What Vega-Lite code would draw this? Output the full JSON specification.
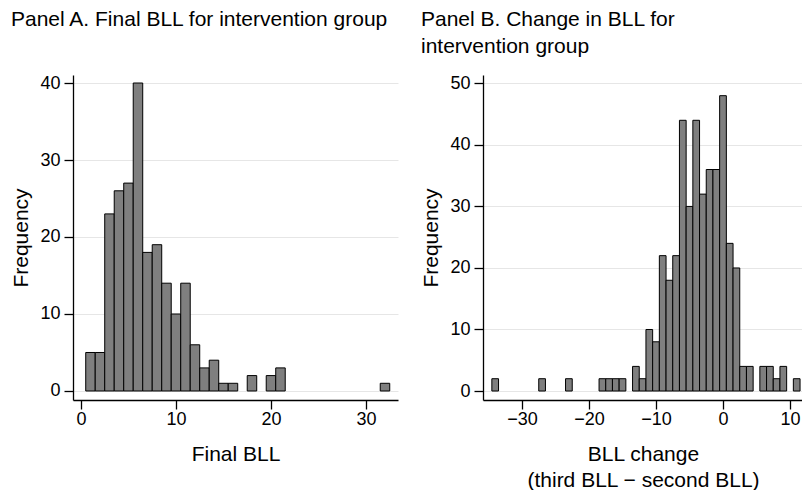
{
  "$schema": "https://vega.github.io/schema/vega-lite/v6.json",
  "padding": {"left": 10, "top": 9, "right": 0, "bottom": 0},
  "spacing": 22,
  "config": {
    "font": "Liberation Sans",
    "view": {"stroke": null},
    "axis": {
      "domainColor": "#000", "domainWidth": 1.3,
      "tickColor": "#000", "tickWidth": 1.3, "tickSize": 9,
      "labelFontSize": 18, "labelColor": "#000", "labelPadding": 4,
      "titleFontSize": 21, "titleFontWeight": "normal", "titleColor": "#000",
      "gridColor": "#e6e6e6", "gridWidth": 1
    },
    "axisX": {"grid": false, "labelPadding": 1, "titlePadding": 15, "titleLineHeight": 26},
    "axisY": {"grid": true, "titlePadding": 8},
    "title": {"anchor": "start", "frame": "bounds", "fontSize": 21, "fontWeight": "normal", "color": "#000", "lineHeight": 27}
  },
  "hconcat": [
    {
      "title": {"text": "Panel A. Final BLL for intervention group", "offset": 44},
      "width": 325,
      "height": 325,
      "data": {"values": [
        {"bin_start": 0.5, "bin_end": 1.5, "count": 5},
        {"bin_start": 1.5, "bin_end": 2.5, "count": 5},
        {"bin_start": 2.5, "bin_end": 3.5, "count": 23},
        {"bin_start": 3.5, "bin_end": 4.5, "count": 26},
        {"bin_start": 4.5, "bin_end": 5.5, "count": 27},
        {"bin_start": 5.5, "bin_end": 6.5, "count": 40},
        {"bin_start": 6.5, "bin_end": 7.5, "count": 18},
        {"bin_start": 7.5, "bin_end": 8.5, "count": 19},
        {"bin_start": 8.5, "bin_end": 9.5, "count": 14},
        {"bin_start": 9.5, "bin_end": 10.5, "count": 10},
        {"bin_start": 10.5, "bin_end": 11.5, "count": 14},
        {"bin_start": 11.5, "bin_end": 12.5, "count": 6},
        {"bin_start": 12.5, "bin_end": 13.5, "count": 3},
        {"bin_start": 13.5, "bin_end": 14.5, "count": 4},
        {"bin_start": 14.5, "bin_end": 15.5, "count": 1},
        {"bin_start": 15.5, "bin_end": 16.5, "count": 1},
        {"bin_start": 17.5, "bin_end": 18.5, "count": 2},
        {"bin_start": 19.5, "bin_end": 20.5, "count": 2},
        {"bin_start": 20.5, "bin_end": 21.5, "count": 3},
        {"bin_start": 31.5, "bin_end": 32.5, "count": 1}
      ]},
      "mark": {"type": "bar", "fill": "#7f7f7f", "stroke": "#000", "strokeWidth": 1},
      "encoding": {
        "x": {"field": "bin_start", "type": "quantitative",
              "scale": {"domain": [-0.84, 33.37], "nice": false, "zero": false},
              "axis": {"values": [0, 10, 20, 30], "title": "Final BLL"}},
        "x2": {"field": "bin_end"},
        "y": {"field": "count", "type": "quantitative",
              "scale": {"domain": [-1.17, 41.04], "nice": false, "zero": false},
              "axis": {"values": [0, 10, 20, 30, 40], "title": "Frequency"}},
        "y2": {"datum": 0}
      }
    },
    {
      "title": {"text": ["Panel B. Change in BLL for", "intervention group"], "offset": 17},
      "width": 320,
      "height": 325,
      "data": {"values": [
        {"bin_start": -34.5, "bin_end": -33.5, "count": 2},
        {"bin_start": -27.5, "bin_end": -26.5, "count": 2},
        {"bin_start": -23.5, "bin_end": -22.5, "count": 2},
        {"bin_start": -18.5, "bin_end": -17.5, "count": 2},
        {"bin_start": -17.5, "bin_end": -16.5, "count": 2},
        {"bin_start": -16.5, "bin_end": -15.5, "count": 2},
        {"bin_start": -15.5, "bin_end": -14.5, "count": 2},
        {"bin_start": -13.5, "bin_end": -12.5, "count": 4},
        {"bin_start": -12.5, "bin_end": -11.5, "count": 2},
        {"bin_start": -11.5, "bin_end": -10.5, "count": 10},
        {"bin_start": -10.5, "bin_end": -9.5, "count": 8},
        {"bin_start": -9.5, "bin_end": -8.5, "count": 22},
        {"bin_start": -8.5, "bin_end": -7.5, "count": 18},
        {"bin_start": -7.5, "bin_end": -6.5, "count": 22},
        {"bin_start": -6.5, "bin_end": -5.5, "count": 44},
        {"bin_start": -5.5, "bin_end": -4.5, "count": 30},
        {"bin_start": -4.5, "bin_end": -3.5, "count": 44},
        {"bin_start": -3.5, "bin_end": -2.5, "count": 32},
        {"bin_start": -2.5, "bin_end": -1.5, "count": 36},
        {"bin_start": -1.5, "bin_end": -0.5, "count": 36},
        {"bin_start": -0.5, "bin_end": 0.5, "count": 48},
        {"bin_start": 0.5, "bin_end": 1.5, "count": 24},
        {"bin_start": 1.5, "bin_end": 2.5, "count": 20},
        {"bin_start": 2.5, "bin_end": 3.5, "count": 4},
        {"bin_start": 3.5, "bin_end": 4.5, "count": 4},
        {"bin_start": 5.5, "bin_end": 6.5, "count": 4},
        {"bin_start": 6.5, "bin_end": 7.5, "count": 4},
        {"bin_start": 7.5, "bin_end": 8.5, "count": 2},
        {"bin_start": 8.5, "bin_end": 9.5, "count": 4},
        {"bin_start": 10.5, "bin_end": 11.5, "count": 2}
      ]},
      "mark": {"type": "bar", "fill": "#7f7f7f", "stroke": "#000", "strokeWidth": 1},
      "encoding": {
        "x": {"field": "bin_start", "type": "quantitative",
              "scale": {"domain": [-35.82, 11.94], "nice": false, "zero": false},
              "axis": {"values": [-30, -20, -10, 0, 10], "title": ["BLL change", "(third BLL − second BLL)"]}},
        "x2": {"field": "bin_end"},
        "y": {"field": "count", "type": "quantitative",
              "scale": {"domain": [-1.46, 51.36], "nice": false, "zero": false},
              "axis": {"values": [0, 10, 20, 30, 40, 50], "title": "Frequency"}},
        "y2": {"datum": 0}
      }
    }
  ]
}
